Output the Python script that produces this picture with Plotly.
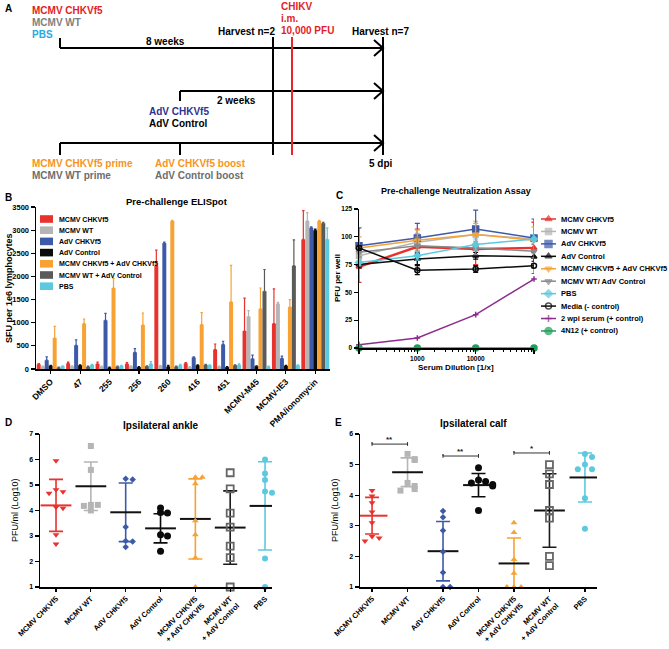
import plotly.graph_objects as go

W, H = 669, 649
FONT = "Liberation Sans"

# ---------------- shared groups ----------------
group_names = ["MCMV CHKVf5", "MCMV WT", "AdV CHKVf5", "AdV Control",
               "MCMV CHKVf5 + AdV CHKVf5", "MCMV WT + AdV Control", "PBS"]
group_colors = ["#E8322E", "#B5B5B5", "#3D5AA9", "#0B0B0B", "#F7A233", "#5A5A5A", "#5DC9DE"]

# ---------------- B: ELISpot ----------------
peptides = ["DMSO", "47", "255", "256", "260", "416", "451", "MCMV-M45", "MCMV-IE3", "PMA/ionomycin"]
sfu_mcmv_chkv = [100, 120, 110, 110, 2230, 120, 420, 820, 980, 2800]
sfu_mcmv_chkv_err = [15, 30, 40, 30, 340, 20, 120, 710, 750, 620]
sfu_mcmv_wt = [50, 60, 50, 60, 70, 40, 50, 1130, 1410, 3200]
sfu_mcmv_wt_err = [10, 10, 10, 10, 10, 10, 10, 130, 30, 180]
sfu_adv_chkv = [190, 510, 1050, 360, 2720, 250, 530, 220, 230, 3050]
sfu_adv_chkv_err = [70, 120, 150, 80, 20, 10, 70, 80, 50, 20]
sfu_adv_ctrl = [70, 80, 30, 40, 50, 80, 40, 60, 70, 3000]
sfu_adv_ctrl_err = [10, 10, 10, 10, 30, 10, 10, 10, 10, 20]
sfu_prime_boost = [670, 980, 1750, 950, 3200, 960, 1450, 1300, 1340, 3200]
sfu_prime_boost_err = [250, 100, 210, 260, 10, 260, 790, 450, 160, 10]
sfu_wt_ctrl = [30, 50, 50, 60, 50, 90, 80, 1680, 2230, 3150]
sfu_wt_ctrl_err = [10, 10, 10, 10, 10, 10, 10, 470, 560, 20]
sfu_pbs = [60, 90, 70, 110, 80, 80, 90, 50, 80, 2800]
sfu_pbs_err = [10, 10, 10, 50, 20, 10, 20, 10, 10, 250]

# ---------------- C: Neutralization ----------------
dilutions = [100, 1000, 10000, 100000]
neut_names = ["MCMV CHKVf5", "MCMV WT", "AdV CHKVf5", "AdV Control", "MCMV CHKVf5 + AdV CHKVf5",
              "MCMV WT/ AdV Control", "PBS", "Media (- control)", "2 wpi serum (+ control)", "4N12 (+ control)"]
pfu_mcmv_chkv = [73, 91, 89, 90]
pfu_mcmv_chkv_err = [14, 16, 14, 23]
pfu_mcmv_wt = [83, 95, 102, 98]
pfu_mcmv_wt_err = [5, 8, 12, 16]
pfu_adv_chkv = [92, 99, 107, 99]
pfu_adv_chkv_err = [16, 13, 17, 17]
pfu_adv_ctrl = [75, 80, 83, 82]
pfu_adv_ctrl_err = [3, 5, 3, 4]
pfu_prime_boost = [90, 97, 102, 97]
pfu_prime_boost_err = [10, 9, 10, 12]
pfu_wt_ctrl = [86, 92, 90, 87]
pfu_wt_ctrl_err = [4, 8, 6, 6]
pfu_pbs = [77, 83, 93, 98]
pfu_pbs_err = [3, 4, 5, 4]
pfu_media = [90, 70, 71, 74]
pfu_media_err = [2, 4, 3, 2]
pfu_wpi = [3, 9, 30, 62]
pfu_4n12 = [0, 0, 0, 0]

# ---------------- D: ipsilateral ankle (log10 PFU/ml) ----------------
ankle_mcmv_chkv = [5.95, 4.81, 4.74, 4.68, 4.13, 4.09, 3.05, 2.69]
ankle_mcmv_wt = [6.53, 5.59, 4.22, 4.22, 4.18, 4.0]
ankle_adv_chkv = [5.25, 5.22, 3.35, 2.8, 2.78, 2.57]
ankle_adv_ctrl = [4.1, 3.92, 3.9, 3.05, 3.0, 2.4]
ankle_prime_boost = [5.3, 5.3, 5.05, 3.6, 3.05, 2.15, 1.0]
ankle_wt_ctrl = [5.48, 4.85, 3.9, 3.35, 2.6, 2.15, 1.0]
ankle_pbs = [6.0, 5.45, 5.2, 4.75, 4.7, 2.12, 1.0]
ankle_mean = [4.2, 4.95, 3.93, 3.3, 3.67, 3.33, 4.18]
ankle_sd = [1.02, 0.95, 1.15, 0.57, 1.57, 1.44, 1.73]

# ---------------- E: ipsilateral calf ----------------
calf_mcmv_chkv = [4.15, 3.97, 3.75, 3.45, 3.1, 2.65, 2.6, 2.5]
calf_mcmv_wt = [5.35, 5.18, 5.15, 4.4, 4.3, 4.2, 4.15]
calf_adv_chkv = [3.48, 3.28, 2.85, 2.15, 1.47, 1.0, 1.0]
calf_adv_ctrl = [4.9, 4.5, 4.45, 4.4, 4.35, 4.3, 3.5]
calf_prime_boost = [3.1, 2.78, 1.9, 1.45, 1.0, 1.0, 1.0]
calf_wt_ctrl = [5.0, 4.7, 4.35, 3.5, 3.25, 2.0, 1.7]
calf_pbs = [5.35, 5.25, 5.0, 4.85, 4.85, 3.9, 2.9]
calf_mean = [3.33, 4.75, 2.17, 4.33, 1.77, 3.5, 4.58]
calf_sd = [0.6, 0.47, 0.97, 0.38, 0.83, 1.2, 0.8]
sig_pairs = [(0, 1), (2, 3), (4, 5)]
sig_levels = [5.67, 5.28, 5.38]
sig_labels = ["**", "**", "*"]


def px(x):
    return x / W


def py(y):
    return 1 - y / H


fig = go.Figure()

# ================= Panel B =================
b_series = [sfu_mcmv_chkv, sfu_mcmv_wt, sfu_adv_chkv, sfu_adv_ctrl, sfu_prime_boost, sfu_wt_ctrl, sfu_pbs]
b_errors = [sfu_mcmv_chkv_err, sfu_mcmv_wt_err, sfu_adv_chkv_err, sfu_adv_ctrl_err,
            sfu_prime_boost_err, sfu_wt_ctrl_err, sfu_pbs_err]
for name, col, vals, err in zip(group_names, group_colors, b_series, b_errors):
    fig.add_trace(go.Bar(
        x=peptides, y=vals, name=name, showlegend=False,
        marker=dict(color=col, line=dict(width=0)),
        error_y=dict(type="data", symmetric=False, array=err, arrayminus=[0] * len(err),
                     color=col, thickness=1.2, width=1.2),
        xaxis="x", yaxis="y"))

# ================= Panel C =================
c_series = [pfu_mcmv_chkv, pfu_mcmv_wt, pfu_adv_chkv, pfu_adv_ctrl, pfu_prime_boost,
            pfu_wt_ctrl, pfu_pbs, pfu_media, pfu_wpi, pfu_4n12]
c_errors = [pfu_mcmv_chkv_err, pfu_mcmv_wt_err, pfu_adv_chkv_err, pfu_adv_ctrl_err, pfu_prime_boost_err,
            pfu_wt_ctrl_err, pfu_pbs_err, pfu_media_err, None, None]
c_colors = ["#E8322E", "#B5B5B5", "#3D5AA9", "#0B0B0B", "#F7A233", "#8A8A8A", "#5DC9DE",
            "#0B0B0B", "#8E2C8E", "#1E9E5A"]
c_symbols = ["triangle-up", "square", "square", "triangle-up", "triangle-down", "triangle-down",
             "diamond", "circle-open", "cross-thin-open", "circle"]
c_sizes = [5, 5, 6, 5, 5, 5, 5, 5, 4, 6]
c_widths = [2.4, 1.5, 1.5, 1.5, 1.5, 1.5, 1.5, 1.5, 1.5, 1.5]
for name, col, sym, ms, lw, vals, err in zip(neut_names, c_colors, c_symbols, c_sizes, c_widths,
                                              c_series, c_errors):
    fig.add_trace(go.Scatter(
        x=dilutions, y=vals, name=name, mode="lines+markers", showlegend=False, cliponaxis=False,
        line=dict(color=col, width=lw),
        marker=dict(symbol=sym, size=ms, color=col, line=dict(color=col, width=1.5)),
        error_y=(dict(type="data", array=err, color=col, thickness=1.2, width=2.5) if err else None),
        xaxis="x2", yaxis="y2"))


# ================= Panels D & E =================
def swarm_offsets(values, step=0.2, tol=0.17):
    offs = []
    for i, v in enumerate(values):
        k = sum(1 for u in values[:i] if abs(u - v) < tol)
        if k == 0:
            offs.append(0.0)
        else:
            mag = ((k + 1) // 2) * step
            offs.append(mag if k % 2 == 1 else -mag)
    return offs


de_symbols = ["triangle-down", "square", "diamond", "circle", "triangle-up", "square-open", "circle"]
de_sizes = [6, 6, 5, 7, 6, 7, 6]
de_point_colors = ["#E8322E", "#B5B5B5", "#3D5AA9", "#0B0B0B", "#F7A233", "#666666", "#5DC9DE"]
de_sd_colors = ["#E8322E", "#B5B5B5", "#3D5AA9", "#0B0B0B", "#F7A233", "#1A1A1A", "#5DC9DE"]
de_mean_colors = ["#E8322E", "#111111", "#111111", "#111111", "#111111", "#111111", "#111111"]

ankle_points = [ankle_mcmv_chkv, ankle_mcmv_wt, ankle_adv_chkv, ankle_adv_ctrl,
                ankle_prime_boost, ankle_wt_ctrl, ankle_pbs]
calf_points = [calf_mcmv_chkv, calf_mcmv_wt, calf_adv_chkv, calf_adv_ctrl,
               calf_prime_boost, calf_wt_ctrl, calf_pbs]

for xa, ya, pts_all, means, sds in [("x3", "y3", ankle_points, ankle_mean, ankle_sd),
                                    ("x4", "y4", calf_points, calf_mean, calf_sd)]:
    for gi, pts in enumerate(pts_all):
        fig.add_trace(go.Scatter(
            x=[gi], y=[means[gi]], mode="markers", showlegend=False,
            marker=dict(symbol="line-ew", size=22, color=de_mean_colors[gi],
                        line=dict(color=de_mean_colors[gi], width=2)),
            error_y=dict(type="data", array=[sds[gi]], color=de_sd_colors[gi], thickness=1.6, width=7),
            xaxis=xa, yaxis=ya))
        offs = swarm_offsets(pts)
        fig.add_trace(go.Scatter(
            x=[gi + o for o in offs], y=pts, mode="markers", showlegend=False, cliponaxis=False,
            marker=dict(symbol=de_symbols[gi], size=de_sizes[gi], color=de_point_colors[gi],
                        line=dict(color=de_point_colors[gi], width=1.8 if "open" in de_symbols[gi] else 0)),
            xaxis=xa, yaxis=ya))

# significance brackets (E)
for (a, b), lvl, lab in zip(sig_pairs, sig_levels, sig_labels):
    fig.add_trace(go.Scatter(
        x=[a, a, a, b, b, b], y=[lvl - 0.06, lvl + 0.06, lvl, lvl, lvl + 0.06, lvl - 0.06],
        mode="lines", line=dict(color="#333333", width=1), showlegend=False, cliponaxis=False,
        xaxis="x4", yaxis="y4"))
    fig.add_annotation(x=(a + b) / 2, y=lvl, xref="x4", yref="y4", text=lab, showarrow=False,
                       yanchor="bottom", yshift=-2, font=dict(size=8, color="#222"))

# ================= overlay (pixel) layer: legends & panel A =================
ann = []


def text(x, y, s, color="black", size=10, anchor="left", weight="bold", angle=0):
    ann.append(dict(x=x, y=y, xref="x5", yref="y5", text=s, showarrow=False, xanchor=anchor,
                    yanchor="middle", textangle=angle,
                    font=dict(family=FONT, size=size, color=color, weight=weight)))


shapes = []


def seg(x0, y0, x1, y1, color="black", width=2):
    shapes.append(dict(type="line", x0=x0, y0=y0, x1=x1, y1=y1, xref="x5", yref="y5",
                       line=dict(color=color, width=width)))


# B legend
for i, (name, col) in enumerate(zip(group_names, group_colors)):
    yc = 219 + i * 11.2
    shapes.append(dict(type="rect", x0=40, x1=53, y0=yc - 3.8, y1=yc + 3.8, xref="x5", yref="y5",
                       fillcolor=col, line=dict(width=0)))
    text(57, yc, name, size=7)

# C legend
for i, (name, col, sym, ms) in enumerate(zip(neut_names, c_colors, c_symbols, c_sizes)):
    yc = 219 + i * 12.44
    fig.add_trace(go.Scatter(x=[541, 548.5, 556], y=[yc] * 3, mode="lines+markers", showlegend=False,
                             line=dict(color=col, width=1.5),
                             marker=dict(symbol=sym, size=[0, ms + 1, 0], color=col,
                                         line=dict(color=col, width=1.5)),
                             xaxis="x5", yaxis="y5", cliponaxis=False))
    text(559, yc, name, size=7.5)

# Panel A diagram
arrow_tip = 383
for yl in (48, 91, 143):
    seg(60 if yl != 91 else 180, yl, arrow_tip, yl)
    shapes.append(dict(type="path", path=f"M {arrow_tip - 9},{yl - 8} L {arrow_tip},{yl} L {arrow_tip - 9},{yl + 8}",
                       xref="x5", yref="y5", line=dict(color="black", width=2)))
seg(60, 38, 60, 48)
seg(180, 91, 180, 101)
seg(60, 143, 60, 155)
seg(180, 143, 180, 155)
seg(273, 37, 273, 155)
seg(arrow_tip, 37, arrow_tip, 155)
seg(292, 37, 292, 155, color="#E8262E", width=2)

RED, GRAY, CYAN, NAVY, ORANGE = "#E31E24", "#7F7F7F", "#29A8E0", "#2E3192", "#F7941D"
text(3, 8, "A", size=10)
text(30, 10, "MCMV CHKVf5", RED)
text(30, 22, "MCMV WT", GRAY)
text(30, 34, "PBS", CYAN)
text(165, 41, "8 weeks", anchor="center")
text(246, 31, "Harvest n=2", anchor="center")
text(279, 6, "CHIKV", RED)
text(279, 18, "i.m.", RED)
text(279, 30, "10,000 PFU", RED)
text(380, 31, "Harvest n=7", anchor="center")
text(236, 100, "2 weeks", anchor="center")
text(147, 111, "AdV CHKVf5", NAVY)
text(147, 123, "AdV Control")
text(30, 163, "MCMV CHKVf5 prime", ORANGE)
text(30, 175, "MCMV WT prime", "#6D6D6D")
text(153, 163, "AdV CHKVf5 boost", ORANGE)
text(153, 175, "AdV Control boost", "#6D6D6D")
text(381, 163, "5 dpi", anchor="center")

# panel letters and titles
text(3, 197, "B", size=10)
text(334, 195, "C", size=10)
text(3, 422, "D", size=10)
text(333, 422, "E", size=10)
text(177, 201, "Pre-challenge ELISpot", size=9.5, anchor="center")
text(456, 191, "Pre-challenge Neutralization Assay", size=9, anchor="center")
text(160, 425, "Ipsilateral ankle", size=10, anchor="center")
text(473, 423, "Ipsilateral calf", size=10, anchor="center")
# axis titles
text(9, 288, "SFU per 1e6 lymphocytes", size=9, anchor="center", angle=-90)
text(337, 278, "PFU per well", size=8, anchor="center", angle=-90)
text(456, 367, "Serum Dilution [1/x]", size=8, anchor="center")
text(15, 510, "PFU/ml (Log10)", size=9, anchor="center", angle=-90, weight="normal")
text(335, 510, "PFU/ml (Log10)", size=9, anchor="center", angle=-90, weight="normal")

# ================= layout / axes =================
ax_common = dict(showline=True, linecolor="black", linewidth=1.5, ticks="outside", tickcolor="black",
                 tickwidth=1.2, showgrid=False, zeroline=False, automargin=False, fixedrange=True)

de_ticktext = [n.replace(" + ", "<br>+ ") for n in group_names]

minor_vals = [m * d for d in (100, 1000, 10000) for m in range(2, 10)]

fig.update_layout(
    width=W, height=H, margin=dict(l=0, r=0, t=0, b=0, pad=0),
    paper_bgcolor="white", plot_bgcolor="rgba(0,0,0,0)",
    font=dict(family=FONT, color="black", weight="bold"),
    barmode="group", bargap=0.05, bargroupgap=0.0,
    showlegend=False,
    xaxis=dict(ax_common, domain=[px(36), px(330)], anchor="y", type="category", range=[-0.5, 9.5],
               tickangle=-45, ticklen=3, tickfont=dict(size=8.5, weight="bold")),
    yaxis=dict(ax_common, domain=[py(369), py(207)], anchor="x", range=[0, 3500], dtick=500,
               ticklen=4, tickfont=dict(size=7.5, weight="bold")),
    xaxis2=dict(ax_common, domain=[px(359), px(534)], anchor="y2", type="log", range=[2, 5],
                tickvals=[100, 1000, 10000, 100000], ticktext=["", "1000", "10000", ""],
                ticklen=4, tickfont=dict(size=6.5, weight="bold"),
                minor=dict(ticks="outside", ticklen=2, tickcolor="black", tickwidth=1, tickvals=minor_vals)),
    yaxis2=dict(ax_common, domain=[py(348), py(209)], anchor="x2", range=[0, 125], dtick=25,
                ticklen=4, tickfont=dict(size=6.5, weight="bold")),
    xaxis3=dict(ax_common, domain=[px(40), px(272)], anchor="y3", range=[-0.46, 6.2],
                tickvals=list(range(7)), ticktext=de_ticktext, tickangle=-45, ticklen=3,
                tickfont=dict(size=7.5, weight="bold")),
    yaxis3=dict(ax_common, domain=[py(587), py(434)], anchor="x3", range=[1, 7], dtick=1,
                ticklen=4, tickfont=dict(size=7, weight="bold")),
    xaxis4=dict(ax_common, domain=[px(360), px(597)], anchor="y4", range=[-0.34, 6.34],
                tickvals=list(range(7)), ticktext=de_ticktext, tickangle=-45, ticklen=3,
                tickfont=dict(size=7.5, weight="bold")),
    yaxis4=dict(ax_common, domain=[py(587), py(434)], anchor="x4", range=[1, 6], dtick=1,
                ticklen=4, tickfont=dict(size=7, weight="bold")),
    xaxis5=dict(domain=[0, 1], anchor="y5", range=[0, W], visible=False, fixedrange=True),
    yaxis5=dict(domain=[0, 1], anchor="x5", range=[H, 0], visible=False, fixedrange=True),
    annotations=list(fig.layout.annotations) + ann,
    shapes=shapes,
)

fig.write_html("out.html", config={"displayModeBar": False, "staticPlot": True},
               post_script="document.body.style.margin='0px';")
